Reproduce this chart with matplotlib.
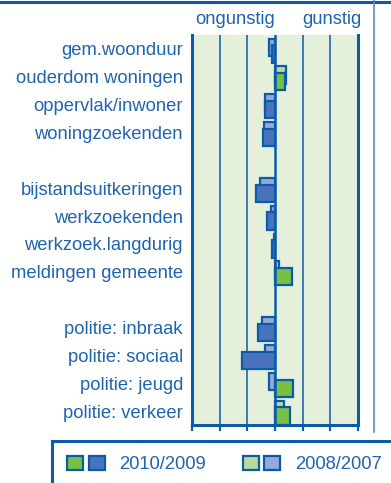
import matplotlib
matplotlib.use("Agg")
import matplotlib.pyplot as plt
from matplotlib.lines import Line2D
from matplotlib.patches import Patch
from matplotlib.legend_handler import HandlerTuple

plt.rcParams['font.family'] = ['Liberation Sans', 'DejaVu Sans']

# indicatoren (rijen van boven naar beneden), lege rij tussen de groepen
labels = ["gem.woonduur", "ouderdom woningen", "oppervlak/inwoner", "woningzoekenden",
          "bijstandsuitkeringen", "werkzoekenden", "werkzoek.langdurig", "meldingen gemeente",
          "politie: inbraak", "politie: sociaal", "politie: jeugd", "politie: verkeer"]
rijen = [0, 1, 2, 3, 5, 6, 7, 8, 10, 11, 12, 13]

# verandering t.o.v. gemiddelde (negatief = ongunstig)
waarde_2010 = [-0.11, 0.37, -0.37, -0.45, -0.69, -0.29, -0.12, 0.62,
               -0.60, -1.20, 0.66, 0.53]
waarde_2008 = [-0.22, 0.40, -0.37, -0.41, -0.54, -0.16, -0.05, 0.16,
               -0.47, -0.37, -0.22, 0.31]

blauw = '#0B5BAA'
tekst = '#1E64AF'
groen_d, blauw_d = '#77C043', '#4A73BD'
groen_l, blauw_l = '#B8DB98', '#97A9DA'

W, H = 391, 483
fig = plt.figure(figsize=(W / 100, H / 100), dpi=100)
ax = fig.add_axes([192 / W, 1 - 425 / H, 166 / W, 390 / H])
ax.set_facecolor('#E5F0DB')

for x in [-2, -1, 1, 2]:
    ax.axvline(x, color=blauw, lw=1.1, zorder=1)

kl_2008 = [groen_l if v > 0 else blauw_l for v in waarde_2008]
kl_2010 = [groen_d if v > 0 else blauw_d for v in waarde_2010]
ax.barh([r - 0.06 for r in rijen], waarde_2008, height=0.62, color=kl_2008,
        edgecolor=blauw, linewidth=1.6, zorder=2)
ax.barh([r + 0.18 for r in rijen], waarde_2010, height=0.62, color=kl_2010,
        edgecolor=blauw, linewidth=1.6, zorder=3)
ax.axvline(0, color=blauw, lw=1.8, zorder=4)

ax.set_xlim(-3, 3)
ax.set_ylim(13.5, -0.5)
ax.set_yticks(rijen)
ax.set_yticklabels(labels, color=tekst, fontsize=13.2)
ax.tick_params(axis='y', length=0, pad=6.5)
ax.set_xticks([-3, -2, -1, 0, 1, 2, 3])
ax.set_xticklabels([])
ax.tick_params(axis='x', length=4.5, width=1.6, color=blauw, direction='out')
for kant in ['left', 'right', 'bottom']:
    ax.spines[kant].set_color(blauw)
    ax.spines[kant].set_linewidth(2.2)
ax.spines['top'].set_visible(False)

fig.text(235 / W, 1 - 20 / H, "ongunstig", ha='center', va='center',
         color=tekst, fontsize=13.2)
fig.text(331.5 / W, 1 - 20 / H, "gunstig", ha='center', va='center',
         color=tekst, fontsize=13.2)

# kader rondom
fig.add_artist(Line2D([0, 1], [1 - 1.5 / H, 1 - 1.5 / H], color=blauw, lw=2.2))
fig.add_artist(Line2D([373.5 / W, 373.5 / W], [1, 1 - 432 / H], color='#5A8CC8', lw=1.2))
fig.add_artist(Line2D([52 / W, 1], [1 - 441 / H, 1 - 441 / H], color=blauw, lw=2.2))
fig.add_artist(Line2D([52 / W, 52 / W], [1 - 441 / H, 0], color=blauw, lw=2.2))

h_nieuw = (Patch(facecolor=groen_d, edgecolor=blauw, lw=1.6),
           Patch(facecolor=blauw_d, edgecolor=blauw, lw=1.6))
h_oud = (Patch(facecolor=groen_l, edgecolor=blauw, lw=1.6),
         Patch(facecolor=blauw_l, edgecolor=blauw, lw=1.6))
leg = fig.legend([h_nieuw, h_oud], ["2010/2009", "2008/2007"], ncol=2,
                 handler_map={tuple: HandlerTuple(ndivide=None, pad=0.32)},
                 loc='center left', bbox_to_anchor=(67 / W, 1 - 464.5 / H),
                 frameon=False, borderpad=0, borderaxespad=0,
                 handlelength=2.05, handleheight=0.86, handletextpad=0.8,
                 columnspacing=2.0, fontsize=13.2)
for t in leg.get_texts():
    t.set_color(tekst)

fig.savefig("out.png", dpi=100, facecolor='white')
